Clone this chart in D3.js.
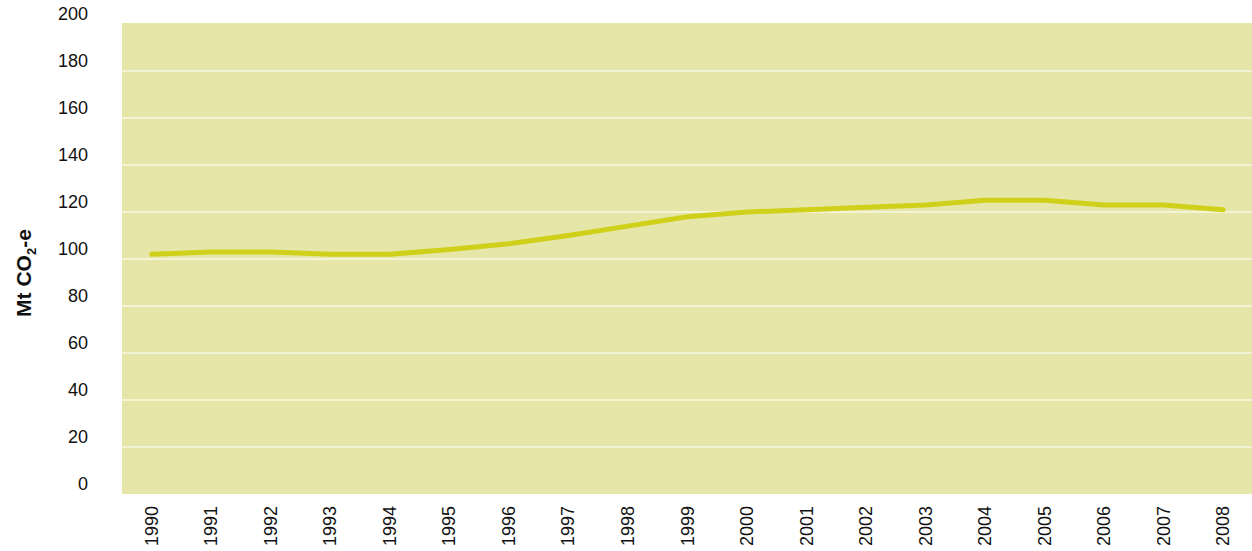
<!DOCTYPE html>
<html><head><meta charset="utf-8">
<script src="https://cdn.jsdelivr.net/npm/d3@7"></script>
<style>body{margin:0;background:#fff;}svg{display:block;font-family:"Liberation Sans",Arial,sans-serif;}</style>
</head><body><svg id="c" width="1252" height="551"></svg>
<script>
const years = ["1990","1991","1992","1993","1994","1995","1996","1997","1998","1999","2000","2001","2002","2003","2004","2005","2006","2007","2008"];
const emissions = [102,103,103,102,102,104,106.5,110,114,118,120,121,122,123,125,125,123,123,121];
const yTicks = [0,20,40,60,80,100,120,140,160,180,200];

const svg = d3.select("#c");
const m = {left:122, right:1253, top:24, bottom:494};
const x = d3.scaleBand().domain(years).range([m.left, m.right]);
const y = d3.scaleLinear().domain([0,200]).range([m.bottom, m.top]);

svg.append("rect").attr("x", m.left).attr("y", 23).attr("width", m.right-m.left).attr("height", m.bottom - 23).attr("fill", "#E6E6A8");

svg.append("g").selectAll("line").data(yTicks.filter(d=>d>0 && d<200)).join("line")
  .attr("x1", m.left).attr("x2", m.right).attr("y1", d=>y(d)).attr("y2", d=>y(d))
  .attr("stroke", "#F7F7E6").attr("stroke-width", 1.5);

svg.append("g").selectAll("text").data(yTicks).join("text")
  .attr("x", 88).attr("y", d=>y(d)-10).attr("dy","0.35em").attr("text-anchor","end")
  .attr("font-size", 18).attr("fill", "#111").text(d=>d);

svg.append("g").selectAll("text").data(years).join("text")
  .attr("transform", d=>`translate(${x(d)+x.bandwidth()/2+6},506) rotate(-90)`)
  .attr("text-anchor","end").attr("font-size",18).attr("fill","#111").text(d=>d);

const line = d3.line().x((d,i)=>x(years[i])+x.bandwidth()/2).y(d=>y(d));
svg.append("path").datum(emissions).attr("d", line).attr("fill","none")
  .attr("stroke","#D0D01A").attr("stroke-width",5).attr("stroke-linecap","round").attr("stroke-linejoin","round");

const t = svg.append("text").attr("transform","translate(31,273) rotate(-90)").attr("text-anchor","middle")
  .attr("font-size",21).attr("font-weight","bold").attr("fill","#111");
t.append("tspan").text("Mt CO");
t.append("tspan").attr("font-size",13).attr("dy",5).text("2");
t.append("tspan").attr("dy",-5).text("-e");
</script></body></html>
